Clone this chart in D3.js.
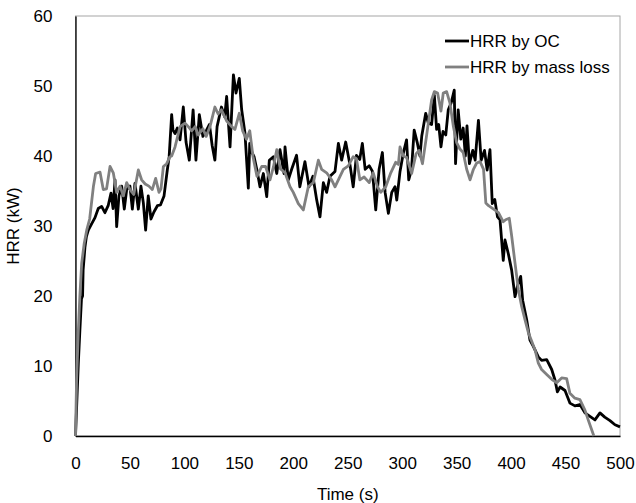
<!DOCTYPE html>
<html>
<head>
<meta charset="utf-8">
<script src="https://cdn.jsdelivr.net/npm/d3@7"></script>
<style>
  body { margin: 0; background: #fff; }
  svg { display: block; font-family: "Liberation Sans", Arial, sans-serif; }
</style>
</head>
<body>
<svg id="chart" width="636" height="503"></svg>
<script>
// HRR by oxygen consumption (black)
var ocTime = [0,1,2.6,4,5.5,6.5,7,8.7,10,11.8,14.8,17.9,20.9,24,27,30,32.6,34.5,36.3,37.8,39.9,42.4,44.8,47,50,52.2,54.6,57.7,60.1,62.3,64.4,66.8,69.3,72,75.2,78,81.3,84.3,86,88.3,89.5,91.4,93.5,96,99,101.5,104.5,108,110.6,113.7,117,120,123,125.5,128,130,134,137,138.8,141.9,145,147.4,150.4,152.6,155.6,158.7,160,162,164,166.6,169.4,172.5,175.6,178,181.7,184.8,187.8,191.5,192.4,195.4,198.5,203,206,210.7,214.4,218,221.5,224.5,227.6,230.6,233.7,238.3,241.4,244.4,248.1,252,255,258,261,263.4,266,269.7,272.7,275.7,278.8,281.8,284.3,287.3,290.4,293.4,295,298,301,304,306,308.5,311,314,316.3,318,321.6,324,327,329.5,331.6,333.5,335.6,337.5,340,342.3,345,347.8,349,351.4,353.8,356,358,359.5,361.7,364.8,367,370,372.5,375.6,378,380.6,382.7,385,387.5,389.8,392.8,394.4,397.5,400.5,403.6,406,408.8,410.6,414.3,417.3,420.4,425,428,432.7,437.3,440.3,442.5,445,449.5,454,458.6,463.2,467.8,472.4,477,481.6,486,490.8,495.4,500];
var ocHRR = [0,4,10.4,15,19.6,20,23.7,27,28.5,29.4,30.3,31.2,32.5,32.8,31.9,32.9,34.7,32.5,36.6,29.9,34.3,35.7,32.4,35.2,35.7,32.4,36.1,32.4,35.7,33.3,29.4,34.3,31,32,32.9,33,34.3,38,39.9,45.9,43.7,43.2,44,42.3,47,42,39.4,46.6,39.4,45.9,42.8,43.6,44.5,41.5,39.4,44.2,47,45.6,48.5,41.3,51.6,49,51.1,46.6,43.3,35.4,41.8,40.5,39.9,38,35.6,37.5,34.2,39.4,39.9,37.5,40.9,37.5,41.3,36.6,38.1,40.1,35.6,39.2,35.6,37.1,33.7,31.3,36.2,34.8,37.1,37.8,41.8,39.4,42,38.8,35.6,40.1,39.5,41.8,38.1,38.6,37.8,32.3,38.1,40.5,34.8,31.8,34.8,35.6,33.7,37.8,40.4,42.3,36.6,38,43.7,41.8,40,42.9,46.1,44.7,44.5,48.7,43.8,44.5,41.3,43.5,43,46.6,47.6,49.4,38.9,46.6,42.4,44,40,44.3,38.9,40.8,39.4,45.1,39.4,40.8,38,40.9,33.2,33.8,31.3,30.9,25.1,28,26,23.7,19.9,21.5,22.8,19.4,16.6,13.7,12.8,11.3,10.8,10.9,9.5,8,6.3,7,6.5,4.7,4.3,4.5,3.3,2.8,2.3,3.3,2.7,2.2,1.6,1.3];

// HRR by mass loss (grey)
var mlTime = [0,1,2.6,4,5.7,8,10.3,13,16.4,18.5,22.5,25.5,28.5,31.7,34.7,37.8,40.9,43.9,47,50,53.5,57.7,60.7,64,67.4,70.5,73.6,76.7,78.5,80.7,83.7,86.8,88.3,91.4,96,100.6,103.6,106.7,109.9,112.8,117,120,123.5,128,131,134,138.8,143.4,146.4,150.4,153.5,157,160,163,166.6,171,174.5,178.6,181.7,184.8,188,192.4,197,200,204.6,209.2,213.8,218.4,223,226,230.6,235.2,238.3,242.9,246,250.5,255,258,261.1,265,269.7,273.4,277.3,280.3,284.9,289.5,294,296.5,298,301,304,308.7,312.7,315.5,318.6,322.2,324,327,329.5,332.5,335.6,337.7,340.8,343.8,346.9,350,353,356,359.2,362.3,365.4,368.4,371.5,374.7,376.8,379.3,383.9,388.4,392.8,395,398.3,400.5,403.6,406.7,409.7,412.8,415.8,419,422,425,428,432.7,437.3,441.9,446.4,451,454,458.6,463.2,467.8,470.8,474,476];
var mlHRR = [0,8,15,20,24.7,27.5,29.4,31,35.6,37.5,37.7,35.2,35.3,38.5,37.6,34.8,35.7,34.3,36.2,35.2,34.5,38,36.6,36,35.7,35.2,36.8,34.8,35.3,38.5,38.9,39.9,40,41.3,44.2,44.7,44.2,43.6,44.2,43,43.9,42.8,44.2,47,46,46.6,45,44.2,43.8,46.1,43.6,42.4,43.6,39.9,37.1,38.5,38.5,36.6,38.4,40.9,38.2,37.6,35.6,34.8,33.2,32.3,35.6,36.2,39.4,38.1,37.6,36.6,35.6,37.1,38.1,38.6,39.9,39.6,36.6,37,36.2,37.6,35.6,34.8,35.6,37.6,39.1,38.8,41.3,40,39.8,37.5,40.3,40.8,38.9,42.7,44.7,48,49.2,49,46.4,49,49.2,47.6,44.3,41.9,41,40.5,38.1,36.6,38.1,39,39.2,38.1,33.3,32.9,32.4,31.9,30.6,30.9,31.1,28.6,24.7,20.9,18.5,16.6,14.8,13.5,12.3,10.4,9.5,8.8,8.1,7.6,8.3,8.2,6.1,5.4,5.2,3.7,2.3,0.9,0];

var xTicks = [0,50,100,150,200,250,300,350,400,450,500];
var yTicks = [0,10,20,30,40,50,60];
var seriesNames = ["HRR by OC", "HRR by mass loss"];

var margins = {top: 16, right: 16, bottom: 67, left: 75.5};
var width = 636, height = 503;

var svg = d3.select('#chart');

var xScale = d3.scaleLinear()
    .domain([0, 500])
    .range([margins.left, width - margins.right]);

var yScale = d3.scaleLinear()
    .domain([0, 60])
    .range([height - margins.bottom, margins.top]);

// plot area border (grey top/right)
svg.append('rect')
    .attr('x', xScale(0))
    .attr('y', yScale(60))
    .attr('width', xScale(500) - xScale(0))
    .attr('height', yScale(0) - yScale(60))
    .attr('fill', 'none')
    .attr('stroke', '#a6a6a6')
    .attr('stroke-width', 1);

// Y axis
var yAxis = svg.append('g')
    .attr('transform', 'translate(' + xScale(0) + ',0)')
    .call(d3.axisLeft(yScale).tickValues(yTicks).tickSize(0).tickPadding(23));
yAxis.select('.domain').attr('stroke', '#000').attr('stroke-width', 1.3);
yAxis.selectAll('text').attr('font-size', '17px').attr('fill', '#000')
    .attr('font-family', '"Liberation Sans", Arial, sans-serif');

// X axis
var xAxis = svg.append('g')
    .attr('transform', 'translate(0,' + yScale(0) + ')')
    .call(d3.axisBottom(xScale).tickValues(xTicks).tickSize(0).tickPadding(21));
xAxis.select('.domain').attr('stroke', '#000').attr('stroke-width', 1.3);
xAxis.selectAll('text').attr('font-size', '17px').attr('fill', '#000')
    .attr('font-family', '"Liberation Sans", Arial, sans-serif');

// lines
var lineGen = d3.line()
    .x(function(d) { return xScale(d[0]); })
    .y(function(d) { return yScale(d[1]); });

var ocData = d3.zip(ocTime, ocHRR);
var mlData = d3.zip(mlTime, mlHRR);

svg.append('path')
    .datum(ocData)
    .attr('d', lineGen)
    .attr('fill', 'none')
    .attr('stroke', '#000')
    .attr('stroke-width', 2.8)
    .attr('stroke-linejoin', 'round');

svg.append('path')
    .datum(mlData)
    .attr('d', lineGen)
    .attr('fill', 'none')
    .attr('stroke', '#808080')
    .attr('stroke-width', 2.8)
    .attr('stroke-linejoin', 'round');

// legend
var legendColors = ['#000', '#808080'];
var legend = svg.append('g');
seriesNames.forEach(function(name, i) {
    var ly = 41 + i * 26;
    legend.append('line')
        .attr('x1', 445).attr('x2', 469)
        .attr('y1', ly).attr('y2', ly)
        .attr('stroke', legendColors[i])
        .attr('stroke-width', 2.8);
    legend.append('text')
        .attr('x', 470)
        .attr('y', ly)
        .attr('dy', '0.35em')
        .attr('font-size', '17px')
        .text(name);
});

// axis titles
svg.append('text')
    .attr('x', (xScale(0) + xScale(500)) / 2)
    .attr('y', 500)
    .attr('text-anchor', 'middle')
    .attr('font-size', '17px')
    .text('Time (s)');

svg.append('text')
    .attr('transform', 'translate(19,' + ((yScale(0) + yScale(60)) / 2) + ') rotate(-90)')
    .attr('text-anchor', 'middle')
    .attr('font-size', '17px')
    .text('HRR (kW)');
</script>
</body>
</html>
